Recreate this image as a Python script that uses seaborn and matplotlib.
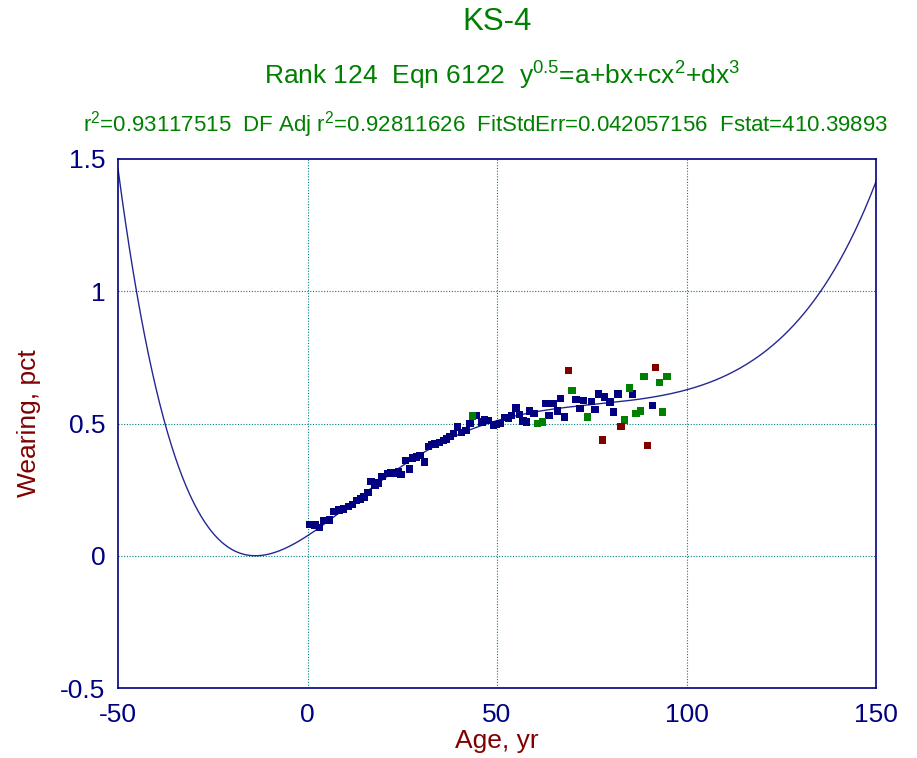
import numpy as np
import pandas as pd
import matplotlib
matplotlib.use("Agg")
import matplotlib.pyplot as plt
import seaborn as sns

# ---- data ----
blue_x = [0.7, 2.0, 3.1, 4.2, 5.8, 7.0, 8.3, 9.5, 10.8, 11.8, 13.0, 14.0, 14.9, 16.0,
          16.8, 17.8, 18.8, 19.7, 21.2, 22.0, 23.1, 24.0, 24.7, 25.9, 26.9, 27.7, 28.8,
          29.7, 30.8, 31.9, 32.8, 33.6, 34.8, 35.8, 36.7, 37.6, 38.5, 39.5, 40.7, 41.8,
          42.9, 44.6, 46.0, 46.7, 47.7, 49.0, 49.9, 50.8, 52.1, 53.0, 53.9, 55.0, 55.9,
          56.9, 57.8, 58.5, 59.8, 62.9, 63.7, 64.9, 65.9, 66.7, 67.8, 70.8, 71.9, 72.9,
          75.0, 75.9, 76.7, 78.3, 79.8, 80.7, 81.9, 85.8, 91.0]
blue_y = [0.119, 0.116, 0.107, 0.133, 0.135, 0.167, 0.173, 0.177, 0.187, 0.193, 0.208,
          0.215, 0.222, 0.240, 0.281, 0.265, 0.275, 0.300, 0.311, 0.313, 0.311, 0.319,
          0.307, 0.361, 0.328, 0.370, 0.374, 0.379, 0.355, 0.414, 0.420, 0.423, 0.429,
          0.436, 0.442, 0.452, 0.462, 0.487, 0.467, 0.473, 0.499, 0.530, 0.506, 0.515,
          0.511, 0.494, 0.496, 0.500, 0.522, 0.518, 0.530, 0.559, 0.534, 0.509, 0.506,
          0.547, 0.538, 0.575, 0.530, 0.575, 0.547, 0.595, 0.525, 0.590, 0.557, 0.586,
          0.584, 0.552, 0.612, 0.600, 0.581, 0.543, 0.612, 0.612, 0.568]
green_x = [43.6, 60.7, 62.0, 69.8, 73.8, 83.6, 84.9, 86.7, 87.9, 88.8, 92.8, 93.6, 94.9]
green_y = [0.528, 0.499, 0.506, 0.625, 0.525, 0.513, 0.634, 0.538, 0.547, 0.677, 0.655,
           0.543, 0.677]
red_x = [68.8, 77.9, 82.7, 89.7, 91.9]
red_y = [0.700, 0.438, 0.488, 0.417, 0.711]

# fitted equation  y^0.5 = a + b x + c x^2 + d x^3  (coefficients estimated from the curve)
coef_a = 0.275
coef_b = 0.01697
coef_c = -2.09e-4
coef_d = 9.1e-7

x_ticks = [-50, 0, 50, 100, 150]
y_ticks = [-0.5, 0, 0.5, 1, 1.5]
x_ticklabels = ["-50", "0", "50", "100", "150"]
y_ticklabels = ["-0.5", "0", "0.5", "1", "1.5"]

title = "KS-4"
subtitle = "Rank 124  Eqn 6122  y$^{0.5}$=a+bx+cx$^{2}$+dx$^{3}$"
statline = ("r$^{2}$=0.93117515  DF Adj r$^{2}$=0.92811626  "
            "FitStdErr=0.042057156  Fstat=410.39893")
xlabel = "Age, yr"
ylabel = "Wearing, pct"

# ---- styling ----
sns.set_style("white")
plt.rcParams["font.family"] = ["Liberation Sans", "DejaVu Sans"]
plt.rcParams["mathtext.fontset"] = "custom"
plt.rcParams["mathtext.rm"] = "Liberation Sans"
plt.rcParams["mathtext.it"] = "Liberation Sans"
plt.rcParams["mathtext.default"] = "regular"

NAVY = "#000080"
GREEN = "#008000"
MAROON = "#800000"
TEAL = "#008080"

fig = plt.figure(figsize=(9.17, 7.58), dpi=100)
ax = fig.add_axes([118 / 917, 1 - 688 / 758, (876 - 118) / 917, (688 - 159) / 758])

# curve
cx = np.linspace(-50, 150, 600)
cy = (coef_a + coef_b * cx + coef_c * cx ** 2 + coef_d * cx ** 3) ** 2
sns.lineplot(x=cx, y=cy, ax=ax, color=NAVY, lw=1.0, alpha=0.85, zorder=3)

pts = pd.DataFrame({
    "x": blue_x + green_x + red_x,
    "y": blue_y + green_y + red_y,
    "grp": ["blue"] * len(blue_x) + ["green"] * len(green_x) + ["red"] * len(red_x),
})
sns.scatterplot(data=pts, x="x", y="y", hue="grp", ax=ax, marker="s", s=28,
                linewidth=0, palette={"blue": NAVY, "green": GREEN, "red": MAROON},
                legend=False, zorder=4)

ax.set_xlim(-50, 150)
ax.set_ylim(-0.5, 1.5)
ax.set_xticks(x_ticks)
ax.set_xticklabels(x_ticklabels)
ax.set_yticks(y_ticks)
ax.set_yticklabels(y_ticklabels)

for xv in x_ticks[1:-1]:
    ax.axvline(xv, color=TEAL, lw=0.8, ls=(0, (1, 1.5)), zorder=1)
for yv in y_ticks[1:-1]:
    ax.axhline(yv, color=TEAL, lw=0.8, ls=(0, (1, 1.5)), zorder=1)

for sp in ax.spines.values():
    sp.set_color(NAVY)
    sp.set_linewidth(1.2)
    sp.set_visible(True)

ax.tick_params(direction="out", length=5, width=1, color=NAVY, labelcolor=NAVY,
               labelsize=19)
ax.tick_params(axis="x", pad=6)
ax.tick_params(axis="y", pad=4)
ax.set_xlabel(xlabel, color=MAROON, fontsize=19, labelpad=1)
ax.set_ylabel(ylabel, color=MAROON, fontsize=19, labelpad=14)

cxf = (118 + 876) / 2 / 917
fig.text(cxf, 1 - 22 / 758, title, ha="center", va="center", color=GREEN, fontsize=22.5)
fig.text(cxf + 0.006, 1 - 76 / 758, subtitle, ha="center", va="center", color=GREEN,
         fontsize=19)
fig.text(cxf - 0.012, 1 - 125 / 758, statline, ha="center", va="center", color=GREEN,
         fontsize=16)

fig.savefig("out.png", dpi=100)
